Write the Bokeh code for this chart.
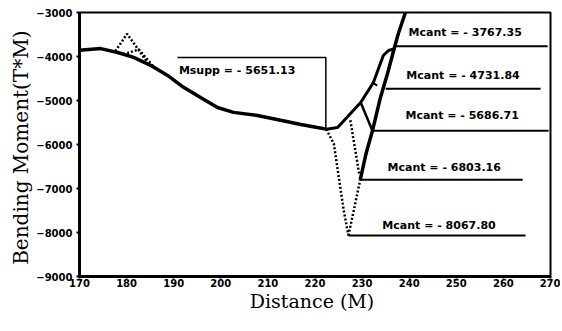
from bokeh.plotting import figure
from bokeh.models import Range1d, FixedTicker, Label
from bokeh.embed import file_html
from bokeh.resources import INLINE

# ---- data ----
x_ticks = [170, 180, 190, 200, 210, 220, 230, 240, 250, 260, 270]
y_ticks = [-9000, -8000, -7000, -6000, -5000, -4000, -3000]

# main solid envelope (support side)
main_dist = [170, 174.5, 178.1, 181.5, 185.1, 188.7, 192.1, 195.7, 199.3, 202.7, 207.8, 212.7, 217.0, 220.5, 222.4]
main_moment = [-3860, -3820, -3910, -4020, -4200, -4430, -4700, -4930, -5160, -5270, -5340, -5450, -5545, -5615, -5651]

# rising solid curve right of the support
rise_dist = [222.4, 224.8, 229.7, 232.4, 234.5, 235.6, 237.1]
rise_moment = [-5651, -5614, -5045, -4590, -3977, -3864, -3818]

# steep solid cantilever line
steep_dist = [229.6, 230.9, 232.2, 233.9, 235.4, 236.7, 237.7, 239.2]
steep_moment = [-6803, -6180, -5687, -4930, -4386, -3864, -3477, -3000]

# short solid links
link_dist = [229.7, 232.2]
link_moment = [-5045, -5687]
tick_dist = [232.1, 233.2]
tick_moment = [-4584, -4660]

# dotted curves
dotA_dist = [222.4, 224.0, 225.05, 226.1, 227.1]
dotA_moment = [-5651, -5985, -6743, -7500, -8068]
dotB_dist = [227.1, 229.6]
dotB_moment = [-8068, -6803]
dotC_dist = [227.5, 229.4]
dotC_moment = [-5450, -6680]
dotD_dist = [177.6, 180.1, 184.4]
dotD_moment = [-3880, -3485, -4130]
dotE_dist = [179.3, 182.6, 185.8]
dotE_moment = [-3950, -3840, -4240]

# labelled values
msupp_value = -5651.13
msupp_text = "Msupp = - 5651.13"
mcant_values = [-3767.35, -4731.84, -5686.71, -6803.16, -8067.80]
mcant_texts = ["Mcant = - 3767.35", "Mcant = - 4731.84", "Mcant = - 5686.71",
               "Mcant = - 6803.16", "Mcant = - 8067.80"]

# ---- layout of the annotations (positions only) ----
msupp_box_y = -4020
msupp_box_x = [190.8, 222.3]
msupp_text_pos = (191.1, -4320)
mcant_line_x0 = [236.7, 235.0, 232.2, 229.6, 227.1]
mcant_line_x1 = [269.4, 267.9, 269.6, 264.1, 264.7]
mcant_text_x = [239.85, 239.4, 239.2, 235.4, 234.3]
mcant_text_y = [-3455, -4432, -5341, -6523, -7841]

p = figure(width=560, height=329, x_range=Range1d(170, 270), y_range=Range1d(-9000, -3000),
           output_backend="svg", toolbar_location=None,
           min_border_left=79, min_border_right=10, min_border_top=12, min_border_bottom=53)

p.xgrid.visible = False
p.ygrid.visible = False
p.outline_line_color = "black"
p.outline_line_width = 2
p.background_fill_color = "white"
p.border_fill_color = "white"

tick_font = "DejaVu Sans"
for ax in (p.xaxis[0], p.yaxis[0]):
    ax.axis_line_width = 3
    ax.axis_line_color = "black"
    ax.major_tick_in = 0
    ax.major_tick_out = 3
    ax.major_tick_line_width = 2
    ax.minor_tick_line_color = None
    ax.major_label_text_font = tick_font
    ax.major_label_text_font_style = "bold"
    ax.major_label_text_font_size = "10px"
    ax.major_label_text_color = "black"
    ax.axis_label_text_font = "DejaVu Serif"
    ax.axis_label_text_font_style = "normal"
    ax.axis_label_text_font_size = "19px"
    ax.axis_label_text_color = "black"

p.xaxis.ticker = FixedTicker(ticks=x_ticks)
p.yaxis.ticker = FixedTicker(ticks=y_ticks)
p.xaxis.major_tick_out = 2
p.xaxis.major_label_standoff = 0
p.yaxis.major_label_standoff = 4
p.xaxis.axis_label = "Distance  (M)"
p.yaxis.axis_label = "Bending  Moment(T*M)"
p.yaxis.axis_label_text_font_size = "20px"
p.xaxis.axis_label_standoff = 0
p.yaxis.axis_label_standoff = 0

# solid curves
p.line(main_dist, main_moment, line_color="black", line_width=3.5)
p.line(rise_dist, rise_moment, line_color="black", line_width=3)
p.line(steep_dist, steep_moment, line_color="black", line_width=3.5)
p.line(link_dist, link_moment, line_color="black", line_width=2.5)
p.line(tick_dist, tick_moment, line_color="black", line_width=2)

# dotted curves
for xs, ys in [(dotA_dist, dotA_moment), (dotB_dist, dotB_moment), (dotC_dist, dotC_moment),
               (dotD_dist, dotD_moment), (dotE_dist, dotE_moment)]:
    p.line(xs, ys, line_color="black", line_width=2.5, line_dash="2 2")

# Msupp annotation: horizontal then vertical down to the support value
p.line([msupp_box_x[0], msupp_box_x[1], msupp_box_x[1]],
       [msupp_box_y, msupp_box_y, msupp_value], line_color="black", line_width=1.5)
p.add_layout(Label(x=msupp_text_pos[0], y=msupp_text_pos[1], text=msupp_text,
                   text_font="DejaVu Sans", text_font_style="bold", text_font_size="11px",
                   text_baseline="middle", text_align="left", text_color="black"))

# Mcant annotations
for v, t, x0, x1, tx, ty in zip(mcant_values, mcant_texts, mcant_line_x0, mcant_line_x1,
                                mcant_text_x, mcant_text_y):
    p.line([x0, x1], [v, v], line_color="black", line_width=2)
    p.add_layout(Label(x=tx, y=ty, text=t, text_font="DejaVu Sans", text_font_style="bold",
                       text_font_size="11px", text_baseline="middle", text_align="left",
                       text_color="black"))

open("out.html", "w").write(file_html(p, INLINE))
